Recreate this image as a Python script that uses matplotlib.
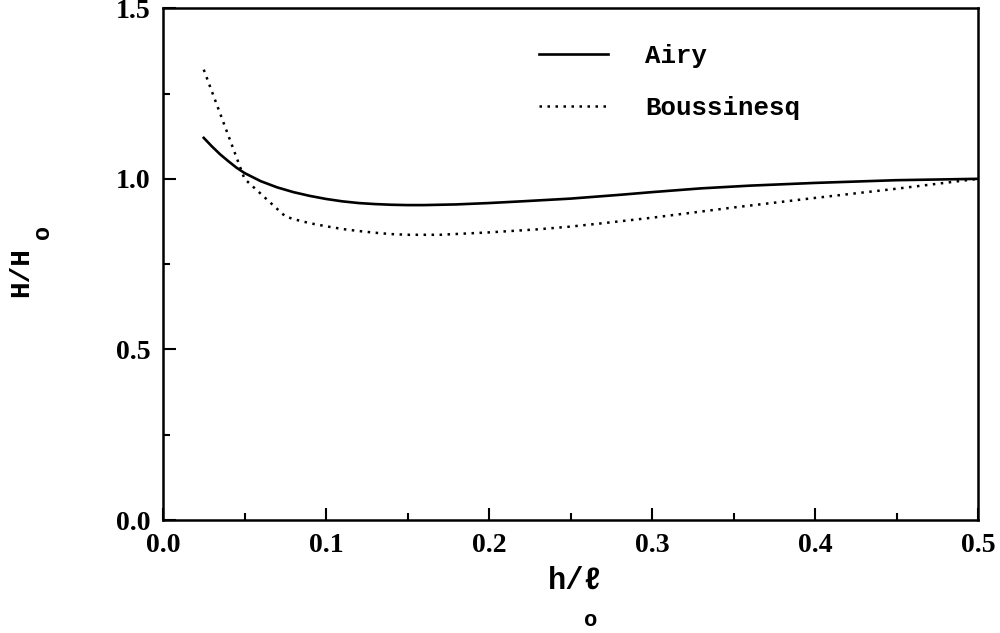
import matplotlib.pyplot as plt
from matplotlib.ticker import MultipleLocator

# h/lo values and wave height ratios
h_airy = [0.025, 0.03, 0.035, 0.04, 0.045, 0.05, 0.06, 0.07, 0.08, 0.09, 0.1, 0.11, 0.12,
          0.13, 0.14, 0.15, 0.16, 0.18, 0.2, 0.22, 0.25, 0.28, 0.3, 0.33, 0.36, 0.4, 0.45, 0.5]
H_airy = [1.12, 1.095, 1.072, 1.052, 1.033, 1.017, 0.993, 0.975, 0.961, 0.95, 0.941, 0.934, 0.929,
          0.926, 0.924, 0.923, 0.923, 0.925, 0.929, 0.934, 0.942, 0.953, 0.961, 0.972, 0.98, 0.988, 0.996, 1.0]

h_bous = [0.025, 0.05, 0.075, 0.08, 0.09, 0.1, 0.11, 0.12, 0.13, 0.14, 0.15, 0.17, 0.2,
          0.23, 0.25, 0.27, 0.3, 0.33, 0.35, 0.4, 0.45, 0.5]
H_bous = [1.32, 1.0, 0.89, 0.882, 0.87, 0.861, 0.853, 0.847, 0.842, 0.838, 0.836, 0.836, 0.843,
          0.852, 0.86, 0.87, 0.886, 0.904, 0.916, 0.944, 0.971, 1.0]

x_ticks = [0.0, 0.1, 0.2, 0.3, 0.4, 0.5]
y_ticks = [0.0, 0.5, 1.0, 1.5]

serif = ['Liberation Serif', 'DejaVu Serif']
mono = ['Liberation Mono', 'DejaVu Sans Mono']

fig = plt.figure(figsize=(10, 6.33), dpi=100)
ax = fig.add_axes([0.163, 0.1785, 0.815, 0.8085])

ax.plot(h_airy, H_airy, color='black', lw=1.9, label='Airy')
ax.plot(h_bous, H_bous, color='black', lw=1.8, linestyle=(0, (1, 2.2)), label='Boussinesq')

ax.set_xlim(0, 0.5)
ax.set_ylim(0, 1.5)
ax.set_xticks(x_ticks)
ax.set_xticklabels([f'{v:.1f}' for v in x_ticks], family=serif, weight='bold', fontsize=20)
ax.set_yticks(y_ticks)
ax.set_yticklabels([f'{v:.1f}' for v in y_ticks], family=serif, weight='bold', fontsize=20)
ax.xaxis.set_minor_locator(MultipleLocator(0.05))
ax.yaxis.set_minor_locator(MultipleLocator(0.25))
ax.tick_params(which='both', direction='in', width=1.5)
ax.tick_params(axis='x', which='both', pad=9)
ax.tick_params(axis='y', which='both', pad=9)
ax.tick_params(which='major', length=9)
ax.tick_params(which='minor', length=5)
for s in ax.spines.values():
    s.set_linewidth(1.8)

ax.legend(loc='upper left', bbox_to_anchor=(0.445, 0.955), frameon=False, borderpad=0,
          handlelength=2.7, labelspacing=1.1, handletextpad=1.45,
          prop={'family': mono, 'weight': 'bold', 'size': 18.5})

# axis labels with the lowered subscript "o"
fig.text(0.575, 0.083, 'h/\u2113', ha='center', va='center', family=mono,
         weight='bold', fontsize=22)
fig.text(0.591, 0.02, 'o', ha='center', va='center', family=mono,
         weight='bold', fontsize=16)
fig.text(0.021, 0.57, 'H/H', ha='center', va='center', rotation=90, family=mono,
         weight='bold', fontsize=20)
fig.text(0.042, 0.633, 'o', ha='center', va='center', rotation=90, family=mono,
         weight='bold', fontsize=17)

fig.savefig('out.png', dpi=100)
